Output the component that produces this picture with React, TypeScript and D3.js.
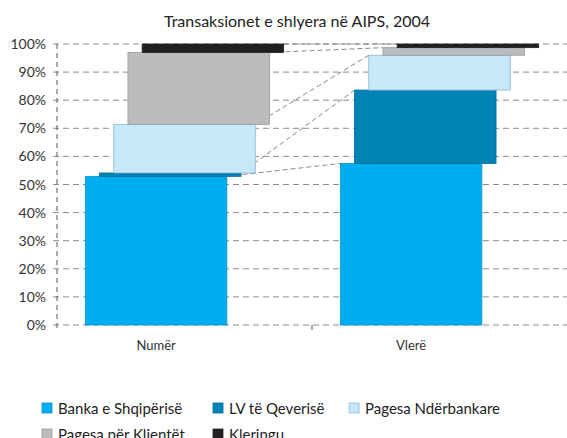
import React from "react";
import * as d3 from "d3";

const categories = ["Numër", "Vlerë"];
const seriesNames = [
  "Banka e Shqipërisë",
  "LV të Qeverisë",
  "Pagesa Ndërbankare",
  "Pagesa për Klientët",
  "Kleringu",
];
// share in percent, by series, [Numër, Vlerë]
const bankaValues = [52.9, 57.5];
const lvValues = [1.2, 26.1];
const nderbankareValues = [17.3, 12.4];
const klientetValues = [25.6, 2.7];
const kleringValues = [3.0, 1.3];
const yTicks = [0, 10, 20, 30, 40, 50, 60, 70, 80, 90, 100];

const fills = ["#00aeef", "#0083b5", "#c7e8f8", "#bbbcbe", "#231f20"];
const strokes = ["#0096cf", "#006c96", "#8db6ca", "#999a9c", "#231f20"];

const W = 567;
const H = 438;
const font = "Lato, 'Noto Sans', sans-serif";

const App = () => {
  const margin = { top: 44, right: 0, bottom: 113, left: 57 };
  const seriesValues = [bankaValues, lvValues, nderbankareValues, klientetValues, kleringValues];

  const x = d3.scaleBand().domain(categories).range([margin.left, W]).padding(0);
  const y = d3.scaleLinear().domain([0, 100]).range([H - margin.bottom, margin.top]);

  const barW = 141.5;
  const shift = 14.2;
  const n = seriesNames.length;

  // stacked layout per category
  const stackRows = categories.map((c, ci) => {
    const row: any = { cat: c };
    seriesNames.forEach((s, si) => (row[s] = seriesValues[si][ci]));
    return row;
  });
  const stacked = d3.stack().keys(seriesNames)(stackRows);

  const barLeft = (ci: number, si: number) =>
    (x(categories[ci]) as number) + x.bandwidth() / 2 - (barW + (n - 1) * shift) / 2 + si * shift;

  const lineGen = d3.line();

  return (
    <svg width={W} height={H} style={{ position: "absolute", left: 0, top: 0, background: "#fff" }}>
      <text x={297} y={27} textAnchor="middle" fontFamily={font} fontSize={16} fill="#222">
        Transaksionet e shlyera në AIPS, 2004
      </text>

      {/* gridlines */}
      {yTicks.map((t) => (
        <g key={t}>
          <line
            x1={margin.left - 4}
            x2={W}
            y1={y(t)}
            y2={y(t)}
            stroke="#8c8c8c"
            strokeWidth={1}
            strokeDasharray="6,4"
          />
          <text
            x={46}
            y={y(t) + 5}
            textAnchor="end"
            fontFamily={font}
            fontSize={14}
            fill="#333"
          >
            {t}%
          </text>
        </g>
      ))}
      <line
        x1={margin.left}
        x2={margin.left}
        y1={y(100)}
        y2={y(0) + 4}
        stroke="#555"
        strokeDasharray="5,4"
      />
      <line x1={x(categories[1])} x2={x(categories[1])} y1={y(0)} y2={y(0) + 5} stroke="#555" />

      {/* series lines */}
      {stacked.map((s, si) => (
        <path
          key={"sl" + si}
          d={lineGen([
            [barLeft(0, si) + barW, y(s[0][1])],
            [barLeft(1, si), y(s[1][1])],
          ]) as string}
          fill="none"
          stroke="#777"
          strokeWidth={0.9}
          strokeDasharray="5,3"
        />
      ))}

      {/* bars */}
      {stacked.map((s, si) =>
        s.map((d, ci) => (
          <rect
            key={si + "-" + ci}
            x={barLeft(ci, si)}
            y={y(d[1])}
            width={barW}
            height={y(d[0]) - y(d[1])}
            fill={fills[si]}
            stroke={strokes[si]}
            strokeWidth={0.8}
          />
        ))
      )}

      {categories.map((c, ci) => (
        <text
          key={c}
          x={barLeft(ci, 0) + barW / 2}
          y={350}
          textAnchor="middle"
          fontFamily={font}
          fontSize={13}
          fill="#333"
        >
          {c}
        </text>
      ))}

      {/* legend */}
      {seriesNames.map((s, si) => {
        const col = si % 3;
        const row = Math.floor(si / 3);
        const lx = [42, 213, 349][col];
        const ly = 403 + row * 26;
        return (
          <g key={s}>
            <rect x={lx} y={ly} width={10} height={10} fill={fills[si]} stroke={strokes[si]} strokeWidth={0.8} />
            <text x={lx + 16} y={ly + 10.5} fontFamily={font} fontSize={15} fill="#222">
              {s}
            </text>
          </g>
        );
      })}
    </svg>
  );
};

export default App;
